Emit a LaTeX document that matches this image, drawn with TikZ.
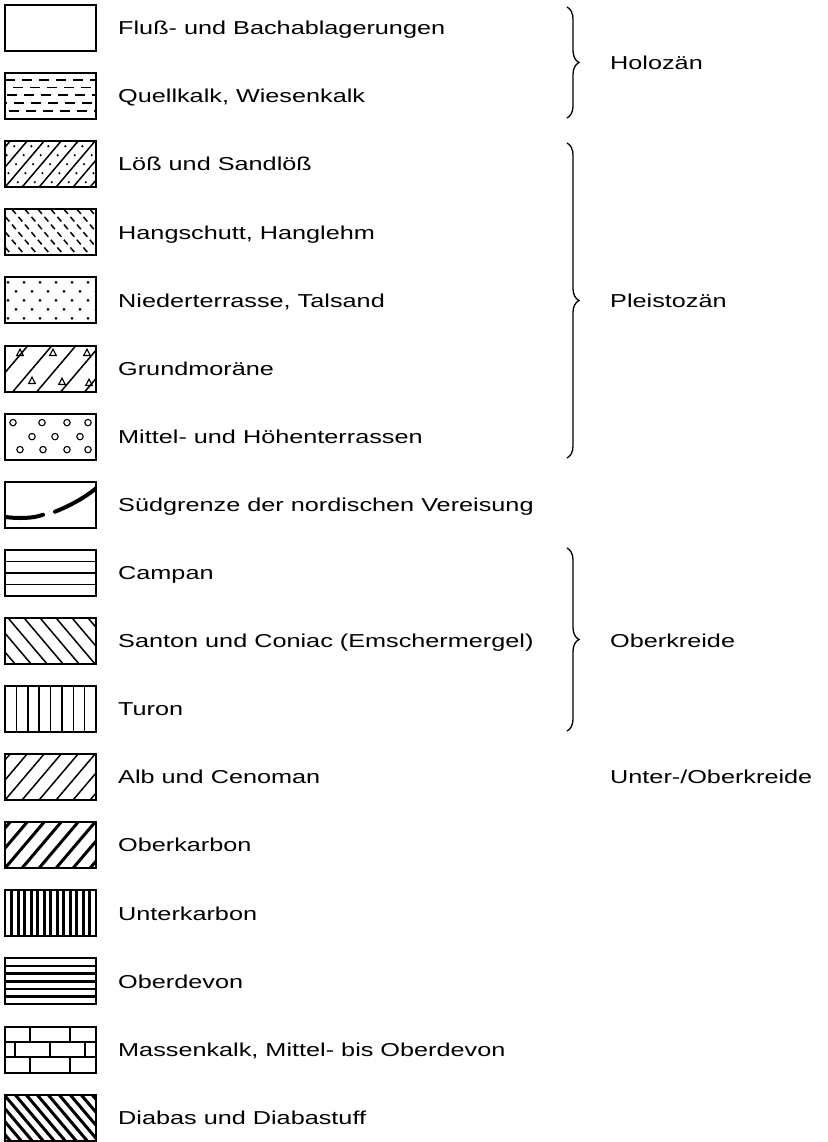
\documentclass[tikz,border=0pt]{standalone}
\usepackage{fontspec}
\setmainfont{Liberation Sans}
\usepackage{graphicx}
\usetikzlibrary{decorations.pathreplacing}
\newcommand{\lbl}[1]{\scalebox{1.35}[1]{#1}}
\begin{document}
\begin{tikzpicture}[x=1pt,y=-1pt,
  swatch/.style={draw, line width=2pt, minimum width=91pt, minimum height=46pt, inner sep=0pt, outer sep=0pt, anchor=north west},
  txt/.style={anchor=base west, inner sep=0pt, font=\fontsize{18.7}{22}\selectfont},
  hatch/.style={line width=1.5pt},
  heavy/.style={line width=3pt},
  bracestyle/.style={decorate, decoration={brace, amplitude=12pt}, line width=1.3pt}]
\useasboundingbox (0,0) rectangle (827,1142);

% ---------- patterns ----------
% 2 Quellkalk
\begin{scope}[shift={(5,73.1)}]
  \clip (0,0) rectangle (91,46);
  \foreach \r/\o in {7/0, 14.5/8, 22/2, 30/9, 38/4}
    \foreach \k in {-1,...,5} \draw[hatch] ({\o+\k*17},\r) -- ++(10,0);
\end{scope}
% 3 Loess
\begin{scope}[shift={(5,141.2)}]
  \clip (0,0) rectangle (91,46);
  \foreach \a in {-51,-34,...,102} {
    \draw[hatch] (\a,46) -- ++(39,-46);
    \foreach \t in {5,14,23,32,41}
      \fill ({\a+8.5+0.85*(46-\t)},\t) circle (1.2);
  }
\end{scope}
% 4 Hangschutt
\begin{scope}[shift={(5,209.3)}]
  \clip (0,0) rectangle (91,46);
  \foreach \a in {-45,-32,...,100}
    \draw[hatch, dash pattern=on 6pt off 4pt] (\a,0) -- ++(39,46);
\end{scope}
% 5 Niederterrasse
\begin{scope}[shift={(5,277.4)}]
  \clip (0,0) rectangle (91,46);
  \foreach \r/\o in {5/3, 14/11, 23/3, 32/11, 41/3}
    \foreach \k in {0,...,5} \fill ({\o+\k*16},\r) circle (1.5);
\end{scope}
% 6 Grundmoraene
\begin{scope}[shift={(5,345.5)}]
  \clip (0,0) rectangle (91,46);
  \foreach \a in {-40,-16,...,110}
    \draw[hatch] (\a,46) -- ++(39,-46);
  \foreach \x/\y in {15/7, 48/7, 82/7, 27/35, 57/36, 84/37}
    \draw[line width=1.1pt] ({\x-3.3},{\y+3}) -- (\x,{\y-3.3}) -- ({\x+3.3},{\y+3}) -- cycle;
\end{scope}
% 7 Mittel- und Hoehenterrassen
\begin{scope}[shift={(5,413.6)}]
  \clip (0,0) rectangle (91,46);
  \foreach \x/\y in {8/9, 37/9, 62/9, 83/9, 27/23, 50/23, 75/23, 15/36, 38/36, 62/36, 83/36}
    \draw[line width=1.1pt] (\x,\y) circle (3.2);
\end{scope}
% 8 Suedgrenze
\begin{scope}[shift={(5,481.7)}]
  \clip (0,0) rectangle (91,46);
  \draw[line width=4pt, line cap=round] (-2,35) .. controls (12,37) and (28,37) .. (38,33);
  \draw[line width=4pt, line cap=round] (50,30) .. controls (65,24) and (80,16) .. (93,5);
\end{scope}
% 9 Campan
\begin{scope}[shift={(5,549.8)}]
  \foreach \r in {11.5,23,34.5} \draw[hatch] (0,\r) -- (91,\r);
\end{scope}
% 10 Santon
\begin{scope}[shift={(5,617.9)}]
  \clip (0,0) rectangle (91,46);
  \foreach \a in {-45,-29,...,100} \draw[hatch] (\a,0) -- ++(39,46);
\end{scope}
% 11 Turon
\begin{scope}[shift={(5,686)}]
  \foreach \k in {1,...,7} \draw[hatch] ({\k*91/8},0) -- ++(0,46);
\end{scope}
% 12 Alb
\begin{scope}[shift={(5,754.1)}]
  \clip (0,0) rectangle (91,46);
  \foreach \a in {-51,-34,...,100} \draw[hatch] (\a,46) -- ++(39,-46);
\end{scope}
% 13 Oberkarbon
\begin{scope}[shift={(5,822.2)}]
  \clip (0,0) rectangle (91,46);
  \foreach \a in {-51,-34,...,100} \draw[heavy] (\a,46) -- ++(39,-46);
\end{scope}
% 14 Unterkarbon
\begin{scope}[shift={(5,890.3)}]
  \foreach \k in {1,...,13} \draw[heavy] ({\k*91/14},0) -- ++(0,46);
\end{scope}
% 15 Oberdevon
\begin{scope}[shift={(5,958.4)}]
  \foreach \k in {1,...,5} \draw[line width=2.6pt] (0,{\k*46/6}) -- ++(91,0);
\end{scope}
% 16 Massenkalk
\begin{scope}[shift={(5,1026.5)}]
  \draw[hatch] (0,15.3) -- (91,15.3) (0,30.7) -- (91,30.7);
  \draw[hatch] (25,0) -- (25,15.3) (65,0) -- (65,15.3)
               (10,15.3) -- (10,30.7) (45,15.3) -- (45,30.7) (80,15.3) -- (80,30.7)
               (25,30.7) -- (25,46) (65,30.7) -- (65,46);
\end{scope}
% 17 Diabas
\begin{scope}[shift={(5,1094.6)}]
  \clip (0,0) rectangle (91,46);
  \foreach \a in {-45,-34,...,100} \draw[heavy] (\a,0) -- ++(39,46);
\end{scope}

% ---------- swatch frames ----------
\foreach \i/\t in {1/5, 2/73.1, 3/141.2, 4/209.3, 5/277.4, 6/345.5, 7/413.6, 8/481.7, 9/549.8,
                   10/617.9, 11/686, 12/754.1, 13/822.2, 14/890.3, 15/958.4, 16/1026.5, 17/1094.6}
  \node[swatch] (s\i) at (5,\t) {};

% ---------- texts ----------
\node[txt] (t1)  at (118,34.7)   {\lbl{Fluß- und Bachablagerungen}};
\node[txt] (t2)  at (118,102.8)  {\lbl{Quellkalk, Wiesenkalk}};
\node[txt] (t3)  at (118,170.9)  {\lbl{Löß und Sandlöß}};
\node[txt] (t4)  at (118,239.0)  {\lbl{Hangschutt, Hanglehm}};
\node[txt] (t5)  at (118,307.1)  {\lbl{Niederterrasse, Talsand}};
\node[txt] (t6)  at (118,375.2)  {\lbl{Grundmoräne}};
\node[txt] (t7)  at (118,443.3)  {\lbl{Mittel- und Höhenterrassen}};
\node[txt] (t8)  at (118,511.4)  {\lbl{Südgrenze der nordischen Vereisung}};
\node[txt] (t9)  at (118,579.5)  {\lbl{Campan}};
\node[txt] (t10) at (118,647.6)  {\lbl{Santon und Coniac (Emschermergel)}};
\node[txt] (t11) at (118,715.7)  {\lbl{Turon}};
\node[txt] (t12) at (118,783.8)  {\lbl{Alb und Cenoman}};
\node[txt] (t13) at (118,851.9)  {\lbl{Oberkarbon}};
\node[txt] (t14) at (118,920.0)  {\lbl{Unterkarbon}};
\node[txt] (t15) at (118,988.1)  {\lbl{Oberdevon}};
\node[txt] (t16) at (118,1056.2) {\lbl{Massenkalk, Mittel- bis Oberdevon}};
\node[txt] (t17) at (118,1124.3) {\lbl{Diabas und Diabastuff}};

% ---------- braces and group labels ----------
\coordinate (h1) at (567,7);   \coordinate (h2) at (567,118);
\coordinate (p1) at (567,143); \coordinate (p2) at (567,458);
\coordinate (o1) at (567,548); \coordinate (o2) at (567,731);
\draw[bracestyle] (h1) -- (h2);
\draw[bracestyle] (p1) -- (p2);
\draw[bracestyle] (o1) -- (o2);

\node[txt] (holo)  at (610,69.2)  {\lbl{Holozän}};
\node[txt] (pleis) at (610,307.1) {\lbl{Pleistozän}};
\node[txt] (ober)  at (610,647.6) {\lbl{Oberkreide}};
\node[txt] (unter) at (610,783.8) {\lbl{Unter-/Oberkreide}};
\end{tikzpicture}
\end{document}
